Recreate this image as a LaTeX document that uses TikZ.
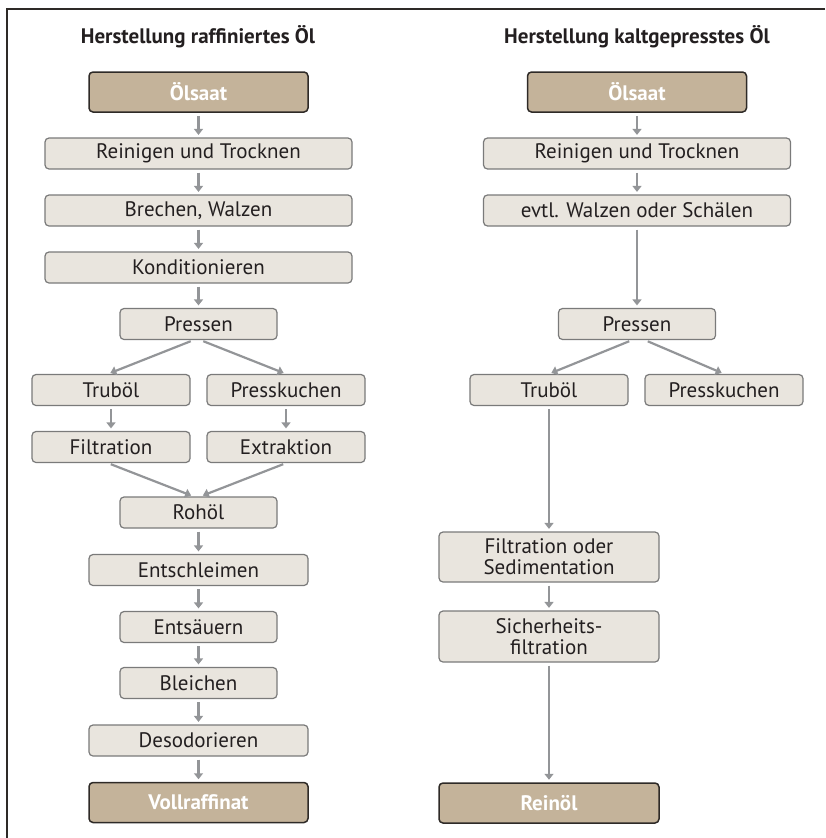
\documentclass[tikz,border=0pt]{standalone}
\usepackage{fontspec}
\setmainfont{PT Sans}
\usetikzlibrary{arrows.meta}
\definecolor{boxfill}{HTML}{E9E5DE}
\definecolor{boxline}{HTML}{7A7A7A}
\definecolor{endfill}{HTML}{C4B39A}
\definecolor{endline}{HTML}{2E2A27}
\definecolor{arrowgray}{HTML}{939598}
\definecolor{txt}{HTML}{231F20}
\tikzset{
  proc/.style={draw=boxline, fill=boxfill, line width=1.2pt, rounded corners=4pt,
    minimum height=31pt, inner sep=0pt, align=center, text=txt},
  endbox/.style={draw=endline, fill=endfill, line width=1.5pt, rounded corners=4pt,
    minimum height=40pt, inner sep=0pt, text=white,
    font=\fontsize{21}{21}\selectfont\bfseries},
  flow/.style={draw=arrowgray, line width=2.2pt,
    -{Triangle[width=9pt,length=6pt]}, shorten <=3pt, shorten >=2.5pt},
  heading/.style={text=txt, font=\fontsize{21}{21}\selectfont\bfseries}
}
\begin{document}
\begin{tikzpicture}[x=1pt,y=-1pt,font=\fontsize{21}{21}\selectfont]
\useasboundingbox (0,0) rectangle (825,838);
\draw[endline, line width=2pt] (825,9) -- (7,9) -- (7,838);
\node[heading] (ha) at (198, 37) {Herstellung raffiniertes Öl};
\node[heading] (hb) at (637, 37) {Herstellung kaltgepresstes Öl};
\node[endbox, minimum width=219pt] (a1) at (198.5, 92) {Ölsaat};
\node[proc, minimum width=307pt] (a2) at (198.5, 153.5) {Reinigen und Trocknen};
\node[proc, minimum width=307pt] (a3) at (198.5, 210.5) {Brechen, Walzen};
\node[proc, minimum width=307pt] (a4) at (198.5, 267.5) {Konditionieren};
\node[proc, minimum width=157pt] (a5) at (198.5, 324) {Pressen};
\node[proc, minimum width=158pt] (a6) at (111, 390) {Truböl};
\node[proc, minimum width=158pt] (a7) at (286, 390) {Presskuchen};
\node[proc, minimum width=158pt] (a8) at (111, 447) {Filtration};
\node[proc, minimum width=158pt] (a9) at (286, 447) {Extraktion};
\node[proc, minimum width=157pt] (a10) at (198.5, 512.5) {Rohöl};
\node[proc, minimum width=219pt] (a11) at (198.5, 570) {Entschleimen};
\node[proc, minimum width=157pt] (a12) at (198.5, 627) {Entsäuern};
\node[proc, minimum width=157pt] (a13) at (198.5, 683) {Bleichen};
\node[proc, minimum width=219pt] (a14) at (198.5, 740.5) {Desodorieren};
\node[endbox, minimum width=219pt] (a15) at (198.5, 802.5) {Vollraffinat};
\node[endbox, minimum width=219pt] (b1) at (637, 92) {Ölsaat};
\node[proc, minimum width=307pt] (b2) at (637, 153.5) {Reinigen und Trocknen};
\node[proc, minimum width=307pt] (b3) at (637, 210.5) {evtl. Walzen oder Schälen};
\node[proc, minimum width=157pt] (b4) at (637, 324) {Pressen};
\node[proc, minimum width=158pt] (b5) at (549, 390) {Truböl};
\node[proc, minimum width=158pt] (b6) at (724, 390) {Presskuchen};
\node[proc, minimum width=220pt, minimum height=50pt] (b7) at (549, 557) {Filtration oder\\Sedimentation};
\node[proc, minimum width=220pt, minimum height=51pt] (b8) at (549, 636.5) {Sicherheits-\\filtration};
\node[endbox, minimum width=220pt] (b9) at (549, 803) {Reinöl};
\draw[flow] (a1) -- (a2);
\draw[flow] (a2) -- (a3);
\draw[flow] (a3) -- (a4);
\draw[flow] (a4) -- (a5);
\draw[flow] ([xshift=-5pt]a5.south) -- ([xshift=-3pt]a6.north);
\draw[flow] ([xshift=2pt]a5.south) -- (a7.north);
\draw[flow] (a6) -- (a8);
\draw[flow] (a7) -- (a9);
\draw[flow] ([xshift=-3pt]a8.south) -- ([xshift=-5pt]a10.north);
\draw[flow] (a9.south) -- ([xshift=2pt]a10.north);
\draw[flow] (a10) -- (a11);
\draw[flow] (a11) -- (a12);
\draw[flow] (a12) -- (a13);
\draw[flow] (a13) -- (a14);
\draw[flow] (a14) -- (a15);
\draw[flow] (b1) -- (b2);
\draw[flow] (b2) -- (b3);
\draw[flow] (b3) -- (b4);
\draw[flow] ([xshift=-5pt]b4.south) -- (b5.north);
\draw[flow] ([xshift=8pt]b4.south) -- (b6.north);
\draw[flow] (b5) -- (b7);
\draw[flow] (b7) -- (b8);
\draw[flow] (b8) -- (b9);
\end{tikzpicture}
\end{document}
